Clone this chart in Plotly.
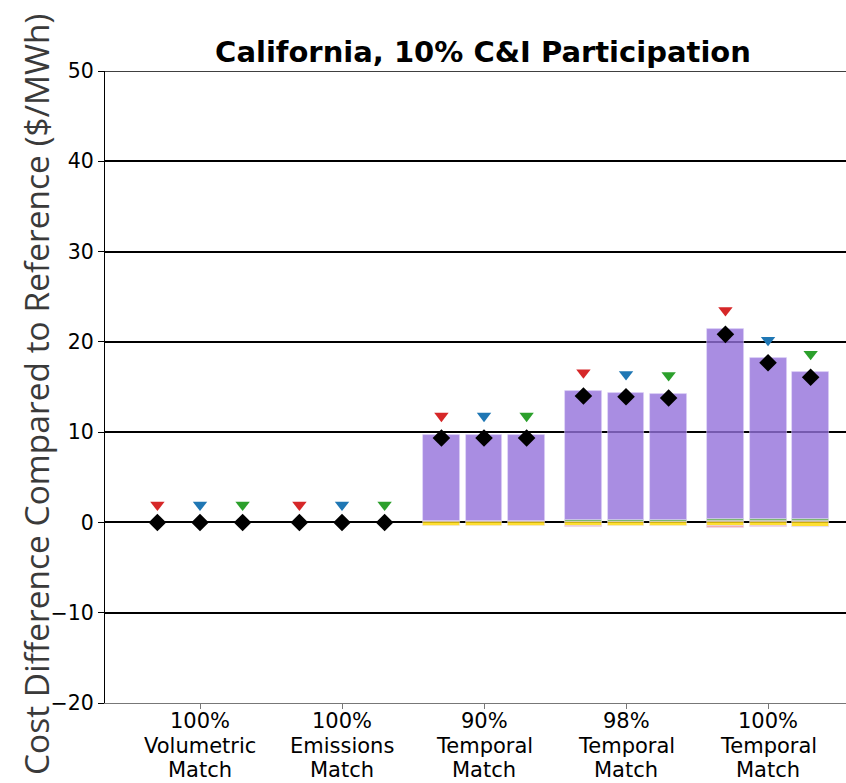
import plotly.graph_objects as go

# Matching strategies (x groups) and three scenario runs per strategy
group_lines = [["100%", "Volumetric", "Match"], ["100%", "Emissions", "Match"],
               ["90%", "Temporal", "Match"], ["98%", "Temporal", "Match"],
               ["100%", "Temporal", "Match"]]
offsets = [-0.3, 0.0, 0.3]
scenario_colors = ["#d62728", "#1f77b4", "#2ca02c"]

# Cost components ($/MWh), ordered group by group, three runs each
purple = [0, 0, 0, 0, 0, 0, 9.50, 9.50, 9.50, 14.31, 14.13, 13.98, 21.03, 17.78, 16.23]
orange = [0, 0, 0, 0, 0, 0, 0.15, 0.15, 0.15, 0.05, 0.05, 0.05, 0.15, 0.15, 0.15]
green = [0, 0, 0, 0, 0, 0, 0.05, 0.05, 0.05, 0.20, 0.20, 0.20, 0.25, 0.25, 0.25]
yellow = [0, 0, 0, 0, 0, 0, -0.35, -0.35, -0.35, -0.40, -0.45, -0.45, -0.40, -0.45, -0.50]
pink = [0, 0, 0, 0, 0, 0, 0, 0, 0, -0.15, 0, 0, -0.20, -0.05, -0.05]

# Alternative estimate shown as triangles
triangle = [1.95, 1.95, 1.95, 1.95, 1.95, 1.95, 11.8, 11.8, 11.8,
            16.6, 16.4, 16.3, 23.5, 20.2, 18.65]

xpos = [g + o for g in range(len(group_lines)) for o in offsets]
net = [p + o + g + y + k for p, o, g, y, k in zip(purple, orange, green, yellow, pink)]

fig = go.Figure()
layers = [
    (orange, "rgba(222,140,40,0.8)"),
    (green, "rgba(80,160,60,0.8)"),
    (purple, "rgba(147,112,219,0.8)"),
    (yellow, "rgba(255,215,0,0.8)"),
    (pink, "rgba(240,150,150,0.8)"),
]
for vals, col in layers:
    shown = [v if v != 0 else None for v in vals]
    fig.add_trace(go.Bar(x=xpos, y=shown, width=0.26, marker=dict(
        color=col, line=dict(color="rgba(230,220,250,0.6)", width=0.8)),
        showlegend=False, hoverinfo="skip"))

for i, col in enumerate(scenario_colors):
    fig.add_trace(go.Scatter(
        x=xpos[i::3], y=triangle[i::3], mode="markers",
        marker=dict(symbol="triangle-down", size=12.5, color=col),
        showlegend=False))

fig.add_trace(go.Scatter(
    x=xpos, y=net, mode="markers",
    marker=dict(symbol="diamond", size=13.5, color="black"),
    showlegend=False))

# Plot area in pixels: left 105, right 846, top 71, bottom 703
PLOT_TOP, PLOT_BOTTOM = 71, 703
PLOT_H = PLOT_BOTTOM - PLOT_TOP


def paper_y(py):
    return (PLOT_BOTTOM - py) / PLOT_H


annotations = [dict(
    text="Cost Difference Compared to Reference ($/MWh)",
    textangle=-90, xref="paper", yref="paper",
    x=-69 / 741, y=paper_y(395), xanchor="center", yanchor="middle",
    showarrow=False, font=dict(size=33.5, family="Open Sans", color="#3a3a3a"))]

# Category labels, three lines per group with tight line spacing
XLAB_SIZE = 21
line_centers = [721, 746, 770]
for gi, lines in enumerate(group_lines):
    for li, txt in enumerate(lines):
        annotations.append(dict(
            text=txt, xref="x", yref="paper", x=gi, y=paper_y(line_centers[li]),
            xanchor="center", yanchor="middle", showarrow=False,
            font=dict(size=XLAB_SIZE, family="DejaVu Sans", color="black")))

fig.update_layout(
    width=846, height=783,
    margin=dict(l=105, r=0, t=71, b=80, autoexpand=False),
    plot_bgcolor="white", paper_bgcolor="white",
    barmode="relative", bargap=0,
    font=dict(family="DejaVu Sans", color="black"),
    title=dict(text="<b>California, 10% C&I Participation</b>",
               x=483 / 846, xanchor="center", y=1 - 52 / 783, yanchor="middle",
               font=dict(size=29, family="DejaVu Sans", color="black")),
    xaxis=dict(range=[-0.669, 4.549], tickvals=list(range(len(group_lines))),
               ticktext=[""] * len(group_lines), automargin=False,
               showgrid=False, zeroline=False, showline=True,
               linecolor="#777", linewidth=1.2, ticks="outside",
               ticklen=5, tickcolor="#777"),
    yaxis=dict(range=[-20, 50], tickvals=list(range(-20, 51, 10)),
               tickfont=dict(size=20.5), showgrid=True, gridcolor="black",
               gridwidth=1.5, zeroline=False, showline=True, linecolor="black",
               linewidth=1.2, ticks="outside", ticklen=6, tickcolor="black",
               automargin=False),
    shapes=[dict(type="line", xref="paper", yref="y", x0=0, x1=1, y0=50, y1=50,
                 line=dict(color="black", width=1.5))],
    annotations=annotations,
)

fig.write_html("out.html")
